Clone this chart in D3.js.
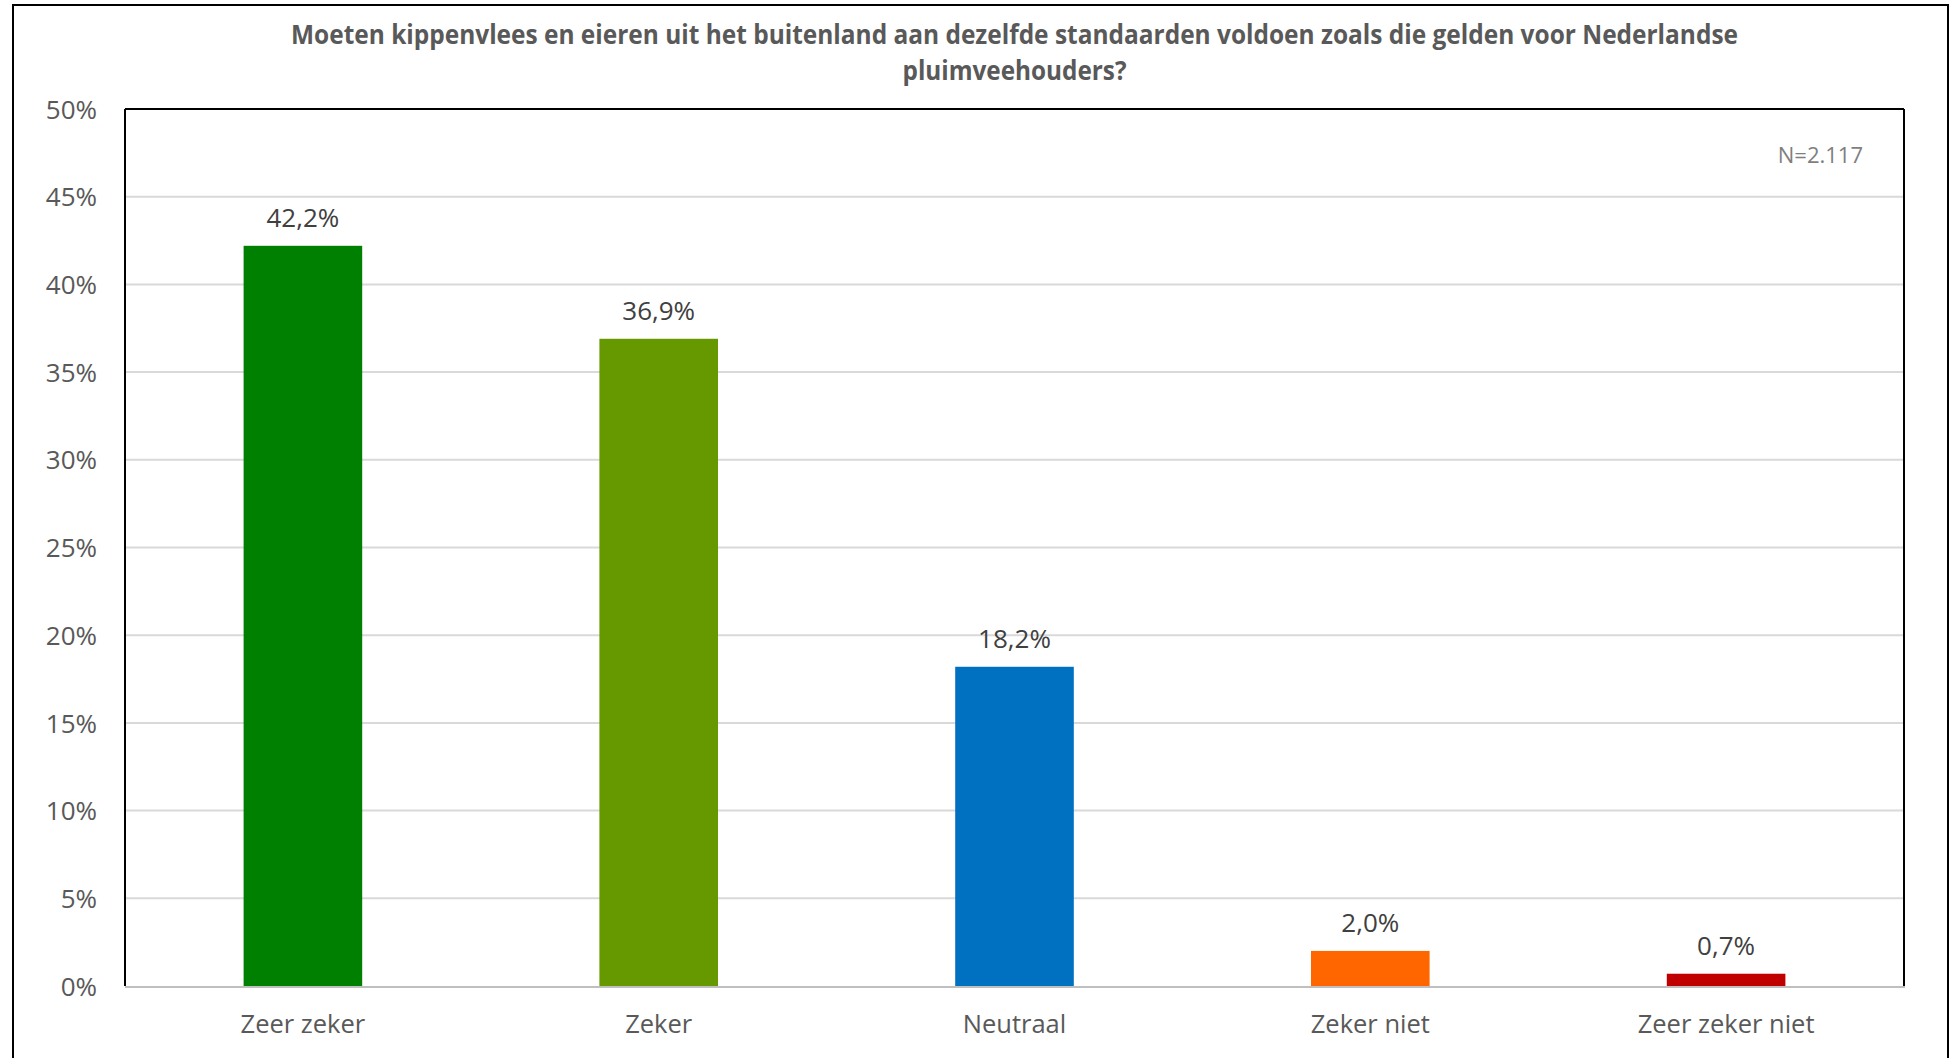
<!DOCTYPE html>
<html>
<head>
<meta charset="utf-8">
<script src="https://cdn.jsdelivr.net/npm/d3@7"></script>
<style>
  html, body { margin: 0; padding: 0; background: #ffffff; }
  svg { display: block; }
</style>
</head>
<body>
<svg id="chart" width="1950" height="1058"></svg>
<script>
const categories = ["Zeer zeker", "Zeker", "Neutraal", "Zeker niet", "Zeer zeker niet"];
const values = [42.2, 36.9, 18.2, 2.0, 0.7];
const barColors = ["#008000", "#669900", "#0070C0", "#FF6600", "#C00000"];
const yTicks = [0, 5, 10, 15, 20, 25, 30, 35, 40, 45, 50];
const titleLines = ["Moeten kippenvlees en eieren uit het buitenland aan dezelfde standaarden voldoen zoals die gelden voor Nederlandse", "pluimveehouders?"];
const noteText = "N=2.117";

const svg = d3.select("#chart");
const font = "'Open Sans', 'Noto Sans', sans-serif";

const plot = { left: 125, right: 1904, top: 109, bottom: 986 };

// outer frame
svg.append("rect")
  .attr("x", 13).attr("y", 5)
  .attr("width", 1948 - 13).attr("height", 1100)
  .attr("fill", "#ffffff").attr("stroke", "#000000").attr("stroke-width", 2);

const x = d3.scaleBand()
  .domain(categories)
  .range([plot.left, plot.right])
  .paddingInner(2 / 3)
  .paddingOuter(1 / 3);

const y = d3.scaleLinear()
  .domain([0, 50])
  .range([plot.bottom, plot.top]);

// gridlines
svg.append("g")
  .selectAll("line")
  .data(yTicks.filter(t => t > 0 && t < 50))
  .join("line")
  .attr("x1", plot.left).attr("x2", plot.right)
  .attr("y1", d => y(d)).attr("y2", d => y(d))
  .attr("stroke", "#d9d9d9").attr("stroke-width", 2);

// y axis labels
const yAxis = d3.axisLeft(y)
  .tickValues(yTicks)
  .tickFormat(d => d + "%")
  .tickSize(0)
  .tickPadding(28);
const yg = svg.append("g")
  .attr("transform", `translate(${plot.left},0)`)
  .call(yAxis);
yg.select(".domain").remove();
yg.selectAll("text")
  .attr("font-family", font)
  .attr("font-size", 26)
  .attr("fill", "#595959")
  .attr("dy", "0.35em");

// bars
svg.append("g")
  .selectAll("rect")
  .data(values)
  .join("rect")
  .attr("x", (d, i) => x(categories[i]))
  .attr("width", x.bandwidth())
  .attr("y", d => y(d))
  .attr("height", d => y(0) - y(d))
  .attr("fill", (d, i) => barColors[i]);

// data labels
svg.append("g")
  .selectAll("text")
  .data(values)
  .join("text")
  .attr("x", (d, i) => x(categories[i]) + x.bandwidth() / 2)
  .attr("y", d => y(d) - 19)
  .attr("text-anchor", "middle")
  .attr("font-family", font)
  .attr("font-size", 26)
  .attr("fill", "#404040")
  .text(d => d.toFixed(1).replace(".", ",") + "%");

// x axis
const xAxis = d3.axisBottom(x).tickSize(0).tickPadding(20);
const xg = svg.append("g")
  .attr("transform", `translate(0,${plot.bottom})`)
  .call(xAxis);
xg.select(".domain").remove();
xg.selectAll("text")
  .attr("font-family", font)
  .attr("font-size", 25.5)
  .attr("fill", "#595959")
  .attr("dy", "1.05em");

// plot border: top, left, right in black; bottom axis gray
svg.append("line")
  .attr("x1", plot.left).attr("x2", plot.right)
  .attr("y1", plot.top).attr("y2", plot.top)
  .attr("stroke", "#000000").attr("stroke-width", 2);
svg.append("line")
  .attr("x1", plot.left).attr("x2", plot.left)
  .attr("y1", plot.top).attr("y2", plot.bottom)
  .attr("stroke", "#000000").attr("stroke-width", 2);
svg.append("line")
  .attr("x1", plot.right).attr("x2", plot.right)
  .attr("y1", plot.top).attr("y2", plot.bottom)
  .attr("stroke", "#000000").attr("stroke-width", 2);
svg.append("line")
  .attr("x1", plot.left).attr("x2", plot.right + 1)
  .attr("y1", plot.bottom + 1).attr("y2", plot.bottom + 1)
  .attr("stroke", "#bfbfbf").attr("stroke-width", 2);

// title
const titleX = (plot.left + plot.right) / 2;
svg.append("text")
  .attr("x", titleX).attr("y", 44)
  .attr("text-anchor", "middle")
  .attr("font-family", font)
  .attr("font-weight", "bold")
  .attr("font-size", 26)
  .attr("fill", "#595959")
  .attr("textLength", 1447)
  .attr("lengthAdjust", "spacingAndGlyphs")
  .text(titleLines[0]);
svg.append("text")
  .attr("x", titleX).attr("y", 80)
  .attr("text-anchor", "middle")
  .attr("font-family", font)
  .attr("font-weight", "bold")
  .attr("font-size", 26)
  .attr("fill", "#595959")
  .attr("textLength", 224)
  .attr("lengthAdjust", "spacingAndGlyphs")
  .text(titleLines[1]);

// N note
svg.append("text")
  .attr("x", 1863).attr("y", 163)
  .attr("text-anchor", "end")
  .attr("font-family", font)
  .attr("font-size", 22)
  .attr("fill", "#7f7f7f")
  .text(noteText);
</script>
</body>
</html>
